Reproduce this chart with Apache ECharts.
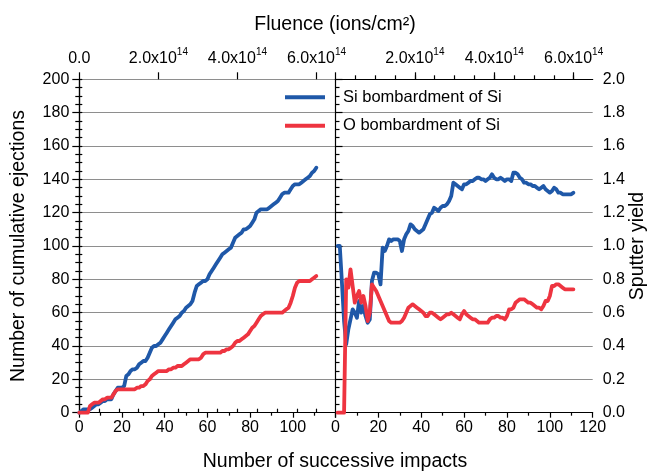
<!DOCTYPE html>
<html>
<head>
<meta charset="utf-8">
<script src="https://cdn.jsdelivr.net/npm/echarts/dist/echarts.min.js"></script>
<style>
  html, body { margin: 0; padding: 0; background: #fff; }
  #chart { width: 654px; height: 472px; }
</style>
</head>
<body>
<div id="chart"></div>
<script>
// Number of successive impacts (left panel, cumulative counts)
const impacts = [
  0, 1, 2, 3, 4, 5, 6, 7, 8, 9,
  10, 11, 12, 13, 14, 15, 16, 17, 18, 19,
  20, 21, 22, 23, 24, 25, 26, 27, 28, 29,
  30, 31, 32, 33, 34, 35, 36, 37, 38, 39,
  40, 41, 42, 43, 44, 45, 46, 47, 48, 49,
  50, 51, 52, 53, 54, 55, 56, 57, 58, 59,
  60, 61, 62, 63, 64, 65, 66, 67, 68, 69,
  70, 71, 72, 73, 74, 75, 76, 77, 78, 79,
  80, 81, 82, 83, 84, 85, 86, 87, 88, 89,
  90, 91, 92, 93, 94, 95, 96, 97, 98, 99,
  100, 101, 102, 103, 104, 105, 106, 107, 108, 109,
  110, 111
];

// Cumulative ejections, Si bombardment of Si
const siCumulative = [
  0, 1, 2, 2, 2, 2, 3, 4, 5, 5,
  6, 7, 7, 8, 8, 8, 11, 13, 15, 15,
  15, 16, 22, 23, 25, 26, 26, 27, 29, 30,
  31, 31, 33, 36, 39, 40, 40, 41, 42, 44,
  46, 48, 50, 52, 54, 56, 57, 58, 60, 61,
  63, 64, 65, 67, 72, 76, 77, 78, 79, 79,
  80, 83, 85, 87, 89, 91, 93, 95, 96, 97,
  98, 99, 102, 105, 106, 107, 108, 110, 110, 111,
  112, 114, 116, 120, 121, 122, 122, 122, 122, 123,
  124, 125, 126, 127, 129, 131, 132, 132, 132, 134,
  136, 137, 137, 137, 138, 139, 140, 141, 142, 144,
  145, 147
];

// Cumulative ejections, O bombardment of Si
const oCumulative = [
  0, 0, 0, 0, 0, 4, 5, 6, 6, 6,
  7, 8, 8, 9, 9, 9, 11, 13, 14, 14,
  14, 14, 14, 14, 14, 14, 14, 15, 15, 16,
  16, 17, 19, 20, 22, 23, 24, 25, 25, 25,
  25, 25, 26, 26, 27, 27, 28, 28, 28, 29,
  30, 31, 32, 32, 32, 32, 32, 33, 35, 36,
  36, 36, 36, 36, 36, 36, 36, 37, 37, 38,
  38, 39, 40, 42, 43, 43, 44, 45, 46, 47,
  49, 51, 52, 54, 56, 58, 59, 60, 60, 60,
  60, 60, 60, 60, 60, 60, 61, 62, 63, 66,
  70, 75, 78, 79, 79, 79, 79, 79, 79, 80,
  81, 82
];

// Number of successive impacts (right panel, sputter yield)
const yieldImpacts = [
  1, 2, 3, 4, 5, 6, 7, 8, 9, 10,
  11, 12, 13, 14, 15, 16, 17, 18, 19, 20,
  21, 22, 23, 24, 25, 26, 27, 28, 29, 30,
  31, 32, 33, 34, 35, 36, 37, 38, 39, 40,
  41, 42, 43, 44, 45, 46, 47, 48, 49, 50,
  51, 52, 53, 54, 55, 56, 57, 58, 59, 60,
  61, 62, 63, 64, 65, 66, 67, 68, 69, 70,
  71, 72, 73, 74, 75, 76, 77, 78, 79, 80,
  81, 82, 83, 84, 85, 86, 87, 88, 89, 90,
  91, 92, 93, 94, 95, 96, 97, 98, 99, 100,
  101, 102, 103, 104, 105, 106, 107, 108, 109, 110,
  111
];

// Sputter yield, Si bombardment of Si
const siYield = [
  1.00, 1.00, 0.78, 0.55, 0.41, 0.50, 0.56, 0.62, 0.60, 0.57,
  0.67, 0.60, 0.64, 0.58, 0.54, 0.56, 0.79, 0.84, 0.84, 0.83,
  0.77, 0.99, 0.97, 1.00, 1.04, 1.03, 1.04, 1.04, 1.04, 1.03,
  0.97, 1.04, 1.07, 1.09, 1.13, 1.12, 1.10, 1.09, 1.08, 1.09,
  1.10, 1.13, 1.16, 1.19, 1.20, 1.23, 1.22, 1.21, 1.23, 1.24,
  1.24, 1.25, 1.27, 1.30, 1.38, 1.37, 1.36, 1.35, 1.34, 1.37,
  1.37, 1.38, 1.39, 1.39, 1.40, 1.41, 1.41, 1.40, 1.40, 1.39,
  1.40, 1.41, 1.43, 1.41, 1.40, 1.40, 1.41, 1.40, 1.39, 1.40,
  1.40, 1.39, 1.44, 1.44, 1.43, 1.41, 1.40, 1.38, 1.38, 1.37,
  1.37, 1.36, 1.36, 1.35, 1.34, 1.35, 1.36, 1.34, 1.33, 1.32,
  1.33, 1.35, 1.34, 1.32, 1.32, 1.31, 1.31, 1.31, 1.31, 1.31,
  1.32
];

// Sputter yield, O bombardment of Si
const oYield = [
  0.00, 0.00, 0.00, 0.00, 0.80, 0.75, 0.86, 0.76, 0.66, 0.70,
  0.73, 0.66, 0.70, 0.64, 0.55, 0.60, 0.77, 0.75, 0.73, 0.70,
  0.67, 0.64, 0.61, 0.58, 0.55, 0.54, 0.54, 0.54, 0.54, 0.54,
  0.55, 0.57, 0.60, 0.63, 0.64, 0.65, 0.64, 0.63, 0.62, 0.61,
  0.60, 0.58, 0.58, 0.60, 0.60, 0.59, 0.58, 0.57, 0.56, 0.57,
  0.58, 0.59, 0.59, 0.60, 0.59, 0.58, 0.57, 0.56, 0.59, 0.61,
  0.59, 0.58, 0.57, 0.56, 0.56, 0.55, 0.54, 0.54, 0.54, 0.54,
  0.54, 0.56, 0.57, 0.57, 0.58, 0.58, 0.57, 0.57, 0.56, 0.58,
  0.62, 0.62, 0.63, 0.66, 0.67, 0.68, 0.68, 0.68, 0.67, 0.66,
  0.66, 0.65, 0.64, 0.63, 0.63, 0.62, 0.64, 0.67, 0.67, 0.70,
  0.76, 0.76, 0.77, 0.77, 0.76, 0.75, 0.74, 0.74, 0.74, 0.74,
  0.74
];

const seriesNames = ['Si bombardment of Si', 'O bombardment of Si'];

// Top-axis fluence labels (ions/cm²) and the fluence delivered per impact
const fluenceTicks = [0, 2e14, 4e14, 6e14];
const fluenceTicksRight = [2e14, 4e14, 6e14];
const fluencePerImpact = 5.4e12;
const impactMax = 120;
const fluenceMax = impactMax * fluencePerImpact;

const fluenceMinor = [];
for (let f = 0.5e14; f < fluenceMax - 1e12; f += 0.5e14) fluenceMinor.push(f);

const FONT = '"Liberation Sans", Arial, Helvetica, sans-serif';
const BLUE = '#1f58a8';
const RED = '#ee3440';
const GRID_GRAY = '#8e8e8e';

const axisLine = { show: true, lineStyle: { color: '#000', width: 1.2 } };
const tickStyle = { color: '#000', width: 1.2 };

function pairs(xs, ys) { return xs.map((x, i) => [x, ys[i]]); }

function fluenceLabel(v) {
  if (v === 0) return '{m|0.0}';
  return '{m|' + (v / 1e14).toFixed(1) + 'x10}{s|14}';
}
const fluenceRich = {
  m: { fontSize: 16, fontFamily: FONT, color: '#000', lineHeight: 22 },
  s: { fontSize: 10, fontFamily: FONT, color: '#000', lineHeight: 12, verticalAlign: 'top' }
};

function impactAxis(gridIndex, hideLast) {
  return {
    gridIndex, type: 'value', position: 'bottom', min: 0, max: impactMax, interval: 20,
    axisLine, axisTick: { length: 5, lineStyle: tickStyle },
    minorTick: { show: true, splitNumber: 2, length: 3, lineStyle: tickStyle },
    axisLabel: {
      fontSize: 16, fontFamily: FONT, color: '#000', margin: 7,
      formatter: v => (hideLast && v === impactMax) ? '' : String(v)
    },
    splitLine: { show: false }
  };
}
function fluenceMinorAxis(gridIndex) {
  return {
    gridIndex, type: 'value', position: 'top', min: 0, max: fluenceMax,
    axisLine, axisTick: { customValues: fluenceMinor, length: 4, lineStyle: tickStyle },
    axisLabel: { show: false }, splitLine: { show: false }
  };
}
function fluenceMajorAxis(gridIndex, labels) {
  return {
    gridIndex, type: 'value', position: 'top', min: 0, max: fluenceMax,
    axisLine: { show: false },
    axisTick: { customValues: fluenceTicks, length: 7, lineStyle: tickStyle },
    axisLabel: { customValues: labels, formatter: fluenceLabel, rich: fluenceRich, margin: 10 },
    splitLine: { show: false }
  };
}

const lineCommon = {
  type: 'line', symbol: 'none', clip: false, animation: false,
  lineStyle: { width: 3.8, cap: 'round', join: 'round' }
};

const option = {
  backgroundColor: '#fff',
  animation: false,
  textStyle: { fontFamily: FONT },
  grid: [
    { left: 79.3, top: 79.3, width: 256.2, height: 333.4 },
    { left: 335.5, top: 79.3, width: 257.2, height: 333.4 }
  ],
  xAxis: [
    impactAxis(0, true),
    fluenceMinorAxis(0),
    fluenceMajorAxis(0, fluenceTicks),
    impactAxis(1, false),
    fluenceMinorAxis(1),
    fluenceMajorAxis(1, fluenceTicksRight)
  ],
  yAxis: [
    {
      gridIndex: 0, type: 'value', position: 'left', min: 0, max: 200, interval: 20,
      axisLine, axisTick: { length: 7, lineStyle: tickStyle },
      minorTick: { show: true, splitNumber: 4, length: 4, lineStyle: tickStyle },
      axisLabel: { fontSize: 16, fontFamily: FONT, color: '#000', margin: 10 },
      splitLine: { show: true, lineStyle: { color: GRID_GRAY, width: 1 } }
    },
    {
      gridIndex: 0, type: 'value', position: 'right', min: 0, max: 200, interval: 20,
      axisLine, axisTick: { length: 3, lineStyle: tickStyle },
      minorTick: { show: true, splitNumber: 4, length: 3, lineStyle: tickStyle },
      axisLabel: { show: false }, splitLine: { show: false }
    },
    {
      gridIndex: 1, type: 'value', position: 'right', min: 0, max: 2, interval: 0.2,
      axisLine, axisTick: { length: 7, lineStyle: tickStyle },
      minorTick: { show: true, splitNumber: 4, length: 4, lineStyle: tickStyle },
      axisLabel: { fontSize: 16, fontFamily: FONT, color: '#000', margin: 10, formatter: v => v.toFixed(1) },
      splitLine: { show: true, lineStyle: { color: GRID_GRAY, width: 1 } }
    }
  ],
  legend: {
    orient: 'vertical', left: 285, top: 88.8, padding: 0,
    icon: 'rect', itemWidth: 40, itemHeight: 4, itemGap: 11.4,
    textStyle: { fontSize: 16.5, fontFamily: FONT, color: '#000', padding: [0, 0, 0, 13] },
    data: seriesNames
  },
  series: [
    Object.assign({}, lineCommon, { name: seriesNames[0], xAxisIndex: 0, yAxisIndex: 0, color: BLUE,
      data: pairs(impacts, siCumulative) }),
    Object.assign({}, lineCommon, { name: seriesNames[1], xAxisIndex: 0, yAxisIndex: 0, color: RED,
      data: pairs(impacts, oCumulative) }),
    Object.assign({}, lineCommon, { name: seriesNames[0], xAxisIndex: 3, yAxisIndex: 2, color: BLUE,
      data: pairs(yieldImpacts, siYield) }),
    Object.assign({}, lineCommon, { name: seriesNames[1], xAxisIndex: 3, yAxisIndex: 2, color: RED,
      data: pairs(yieldImpacts, oYield) })
  ],
  graphic: [
    { type: 'text', x: 335, y: 24.5,
      style: { text: 'Fluence (ions/cm²)', font: '19.5px ' + FONT, fill: '#000', align: 'center', verticalAlign: 'middle' } },
    { type: 'text', x: 335, y: 462,
      style: { text: 'Number of successive impacts', font: '19.5px ' + FONT, fill: '#000', align: 'center', verticalAlign: 'middle' } },
    { type: 'text', x: 19, y: 246, rotation: Math.PI / 2,
      style: { text: 'Number of cumulative ejections', font: '19.5px ' + FONT, fill: '#000', align: 'center', verticalAlign: 'middle' } },
    { type: 'text', x: 638, y: 246, rotation: Math.PI / 2,
      style: { text: 'Sputter yield', font: '19.5px ' + FONT, fill: '#000', align: 'center', verticalAlign: 'middle' } }
  ]
};

const chart = echarts.init(document.getElementById('chart'), null, { renderer: 'canvas' });
chart.setOption(option);
</script>
</body>
</html>
